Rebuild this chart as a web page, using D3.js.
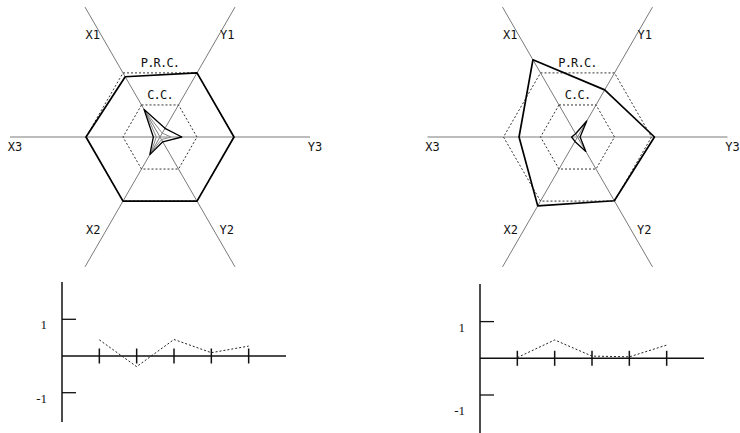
<!doctype html>
<html>
<head>
<meta charset="utf-8">
<script src="https://d3js.org/d3.v7.min.js"></script>
<style>
  body { margin: 0; background: #fff; }
  svg text { font-family: "DejaVu Sans Mono", monospace; fill: #111; }
</style>
</head>
<body>
<svg width="740" height="433"></svg>
<script>
// radar axes, clockwise from upper left
var axes = ["X1", "Y1", "Y3", "Y2", "X2", "X3"];
var levels = [{name: "C.C.", value: 1}, {name: "P.R.C.", value: 2}];

// left radar
var prcLeft = [1.88, 2, 2, 2, 2, 2];
var ccLeft = [0.86, 0.27, 0.59, 0.15, 0.55, 0.18];
var ccLeftGrey = [0.8, 0.12, 0.3, 0.08, 0.5, 0.1];

// right radar
var prcRight = [2.41, 1.47, 2.08, 1.99, 2.15, 1.58];
var ccRight = [0.1, 0.5, 0.07, 0.45, 0.14, 0.16];

// bottom line charts
var steps = [1, 2, 3, 4, 5];
var lineLeft = [0.44, -0.29, 0.45, 0.09, 0.27];
var lineRight = [0.02, 0.5, 0.06, 0.04, 0.36];
var yTicks = [1, -1];

var svg = d3.select("svg");

function drawRadar(cx, cy, prc, ccs) {
  var g = svg.append("g").attr("transform", "translate(" + cx + "," + cy + ")");
  var r = d3.scaleLinear().domain([0, 2]).range([0, 74]);
  function angle(i) { return (120 - 60 * i) * Math.PI / 180; }
  function pt(v, i) { return [r(v) * Math.cos(angle(i)), -r(v) * Math.sin(angle(i))]; }
  var line = d3.line().curve(d3.curveLinearClosed);

  // axis lines
  g.selectAll("line.axis").data(axes).enter().append("line")
    .attr("x1", 0).attr("y1", 0)
    .attr("x2", function(d, i) { return 150 * Math.cos(angle(i)); })
    .attr("y2", function(d, i) { return -150 * Math.sin(angle(i)); })
    .attr("stroke", "#7a7a7a").attr("stroke-width", 1);

  // axis labels
  g.selectAll("text.axis").data(axes).enter().append("text")
    .attr("x", function(d, i) {
      var a = angle(i), c = Math.cos(a), s = Math.sin(a);
      if (Math.abs(s) < 0.01) return c < 0 ? -145 : 155;
      var rr = s > 0 ? 118 : 107;
      return rr * c + (c < 0 ? (s > 0 ? -1 : -6) : (s > 0 ? 1 : 6));
    })
    .attr("y", function(d, i) {
      var a = angle(i), s = Math.sin(a);
      if (Math.abs(s) < 0.01) return 14;
      var rr = s > 0 ? 118 : 107;
      return -rr * s + 4;
    })
    .attr("text-anchor", function(d, i) {
      var a = angle(i), c = Math.cos(a), s = Math.sin(a);
      if (Math.abs(s) < 0.01) return "middle";
      return c < 0 ? "end" : "start";
    })
    .attr("font-size", 12).attr("fill", "#000")
    .text(function(d) { return d; });

  // level hexagons
  levels.forEach(function(lv) {
    g.append("path")
      .attr("d", line(axes.map(function(d, i) { return pt(lv.value, i); })))
      .attr("fill", "none").attr("stroke", "#333").attr("stroke-width", 1)
      .attr("stroke-dasharray", "2,2");
    g.append("text")
      .attr("x", 0).attr("y", -r(lv.value) * Math.sin(Math.PI / 3) - 6)
      .attr("text-anchor", "middle").attr("font-size", 12).attr("fill", "#000")
      .attr("letter-spacing", -0.8)
      .text(lv.name);
  });

  g.append("path").attr("d", line(prc.map(pt)))
    .attr("fill", "none").attr("stroke", "#000").attr("stroke-width", 1.7)
    .attr("stroke-linejoin", "round");

  ccs.forEach(function(s) {
    g.append("path").attr("d", line(s.values.map(pt)))
      .attr("fill", "none").attr("stroke", s.color).attr("stroke-width", s.width)
      .attr("stroke-linejoin", "round");
  });
}

function drawLine(x0, y0, values, axisTop, axisBottom, negLabelDy) {
  var g = svg.append("g");
  var x = d3.scaleLinear().domain([0, 6]).range([x0, x0 + 224]);
  var y = d3.scaleLinear().domain([-1, 1]).range([y0 + 36.7, y0 - 36.7]);

  g.append("line").attr("x1", x0).attr("x2", x0).attr("y1", axisTop).attr("y2", axisBottom)
    .attr("stroke", "#111").attr("stroke-width", 1.5);
  g.append("line").attr("x1", x(0)).attr("x2", x(6)).attr("y1", y(0)).attr("y2", y(0))
    .attr("stroke", "#111").attr("stroke-width", 1.5);

  g.selectAll("line.ytick").data(yTicks).enter().append("line")
    .attr("x1", x0).attr("x2", x0 + 14)
    .attr("y1", function(d) { return y(d); }).attr("y2", function(d) { return y(d); })
    .attr("stroke", "#111").attr("stroke-width", 1.3);
  g.selectAll("text.ytick").data(yTicks).enter().append("text")
    .attr("x", x0 - 15)
    .attr("y", function(d) { return y(d) + (d < 0 ? negLabelDy : 10); })
    .attr("text-anchor", "end")
    .style("font-family", "'Liberation Serif', serif").attr("font-size", 13)
    .attr("fill", "#000")
    .text(function(d) { return d; });

  g.selectAll("line.xtick").data(steps).enter().append("line")
    .attr("x1", function(d) { return x(d); }).attr("x2", function(d) { return x(d); })
    .attr("y1", y(0) - 7.5).attr("y2", y(0) + 7.5)
    .attr("stroke", "#111").attr("stroke-width", 1.5);

  g.append("path")
    .attr("d", d3.line().x(function(d, i) { return x(steps[i]); }).y(function(d) { return y(d); })(values))
    .attr("fill", "none").attr("stroke", "#222").attr("stroke-width", 1)
    .attr("stroke-dasharray", "2,2");
}

drawRadar(160, 137, prcLeft, [
  {values: ccLeftGrey, color: "#888", width: 1},
  {values: ccLeft, color: "#000", width: 1.3}
]);
drawRadar(577.5, 137, prcRight, [
  {values: ccRight, color: "#000", width: 1.3}
]);

drawLine(62, 356, lineLeft, 282, 422, 10);
drawLine(480, 358.3, lineRight, 284, 433, 20);
</script>
</body>
</html>
